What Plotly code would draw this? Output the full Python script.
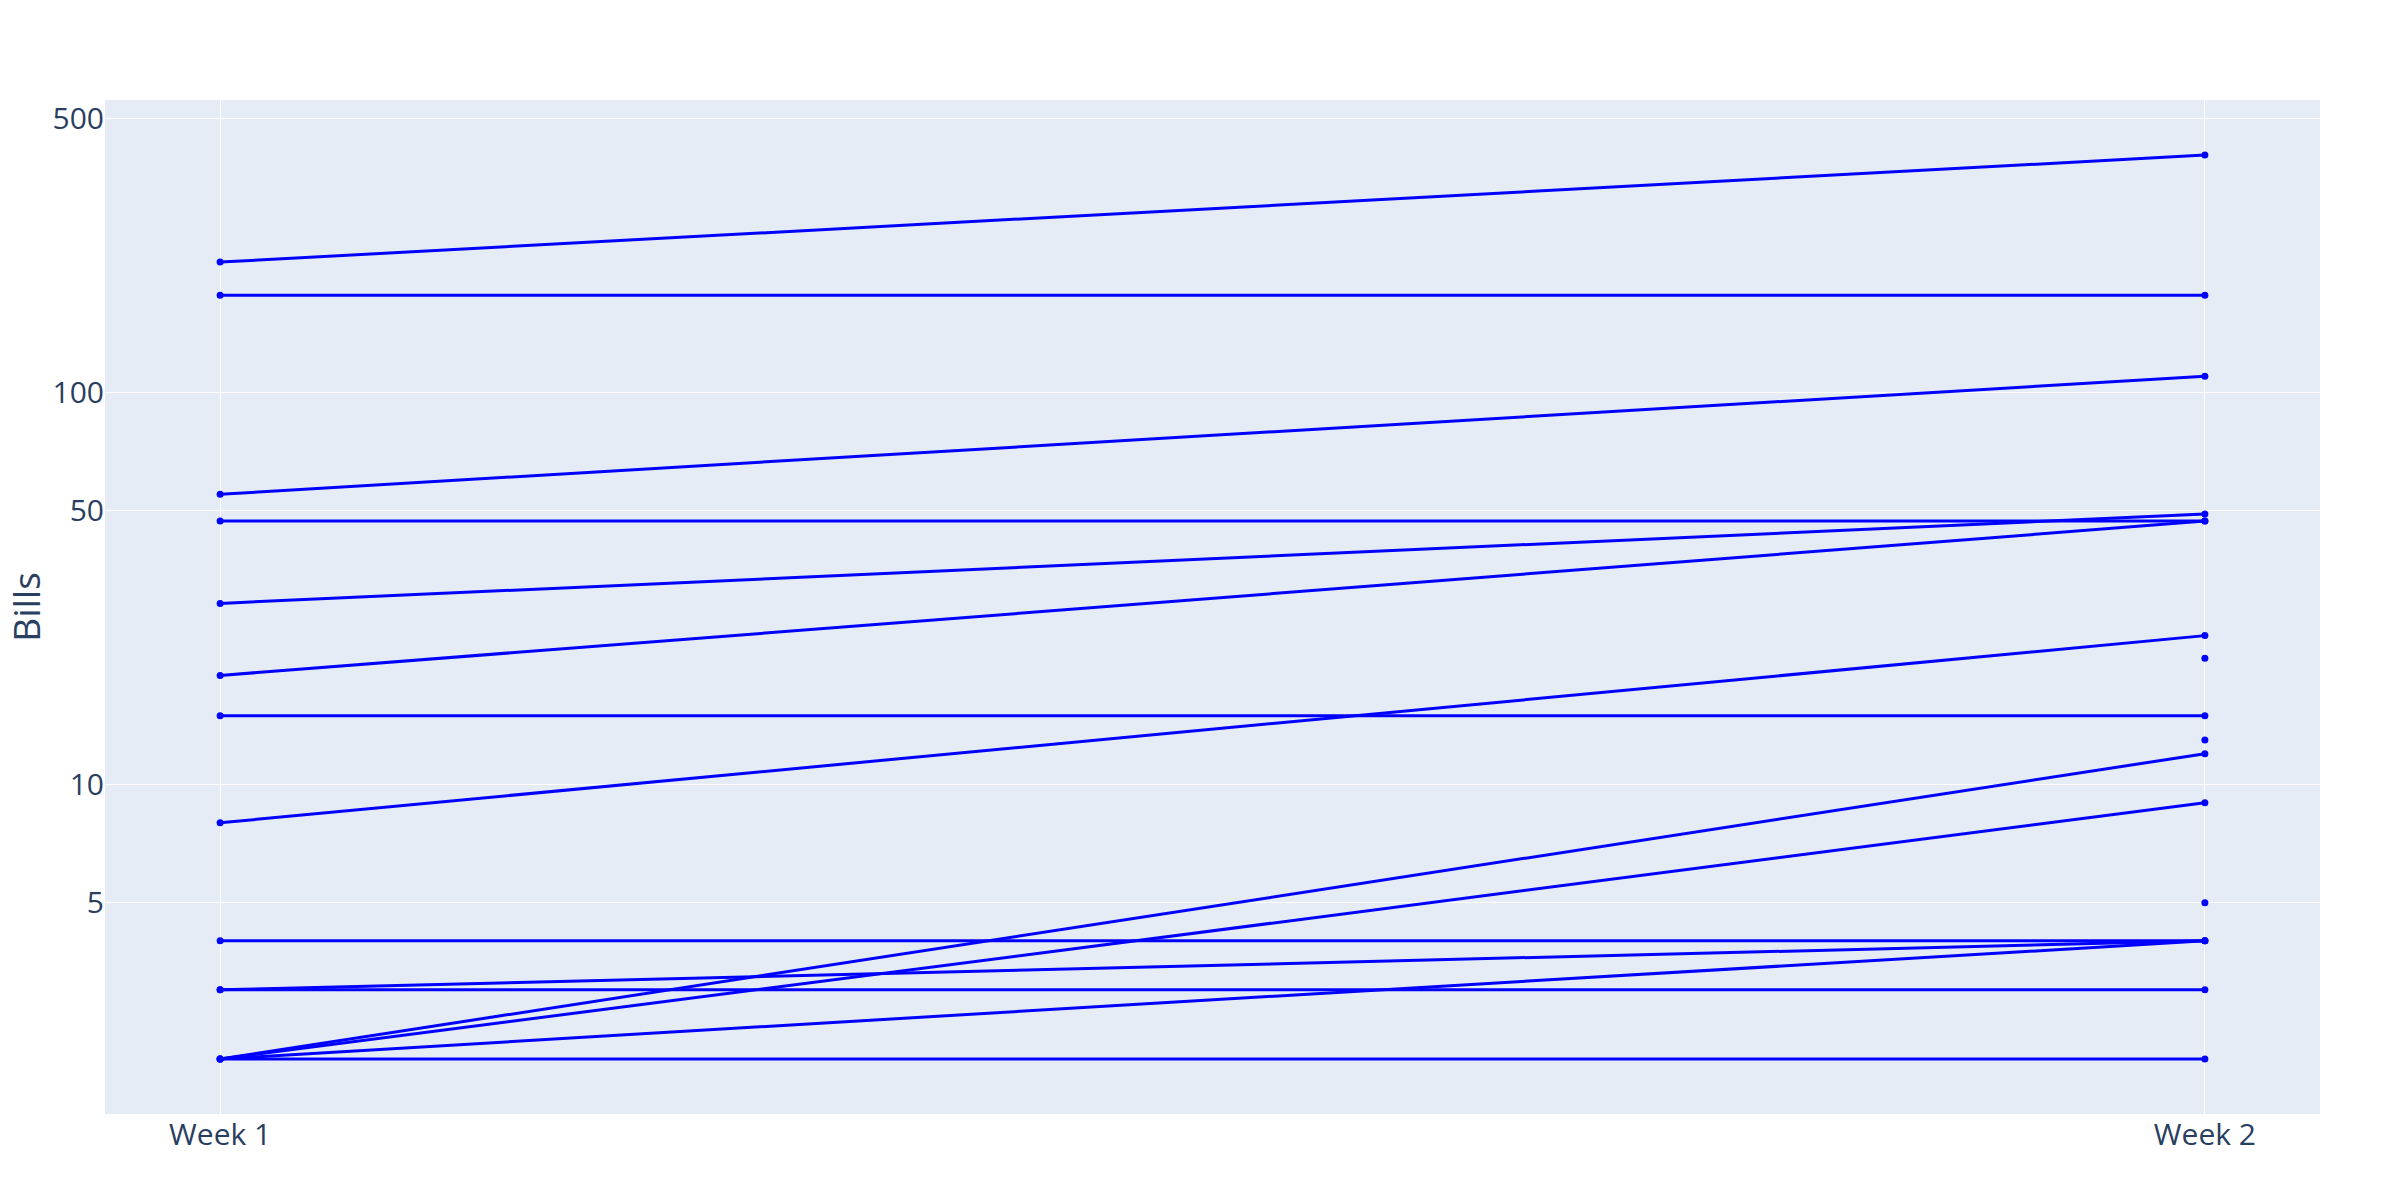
import plotly.graph_objects as go

weeks = ["Week 1", "Week 2"]
week1_bills = [215, 177, 55, 47, 29, 19, 15, 8, 4, 3, 3, 2, 2, 2, 2, None, None, None]
week2_bills = [403, 177, 110, 47, 49, 47, 15, 24, 4, 4, 3, 12, 9, 4, 2, 21, 13, 5]
y_tick_values = [5, 10, 50, 100, 500]

fig = go.Figure()
for w1, w2 in zip(week1_bills, week2_bills):
    fig.add_trace(go.Scatter(
        x=weeks,
        y=[w1, w2],
        mode="lines+markers",
        line=dict(color="blue", width=3),
        marker=dict(color="blue", size=7),
        showlegend=False,
    ))

fig.update_layout(
    template="plotly",
    width=2400,
    height=1200,
    margin=dict(l=105, r=80, t=100, b=86),
    font=dict(size=30),
    showlegend=False,
)
fig.update_xaxes(type="category", automargin=False, tickfont=dict(size=30))
fig.update_yaxes(type="log", title_text="Bills", title_font=dict(size=37),
                 tickvals=y_tick_values, tickfont=dict(size=30),
                 ticktext=[str(v) for v in y_tick_values], automargin=False)

fig.write_html("out.html")
